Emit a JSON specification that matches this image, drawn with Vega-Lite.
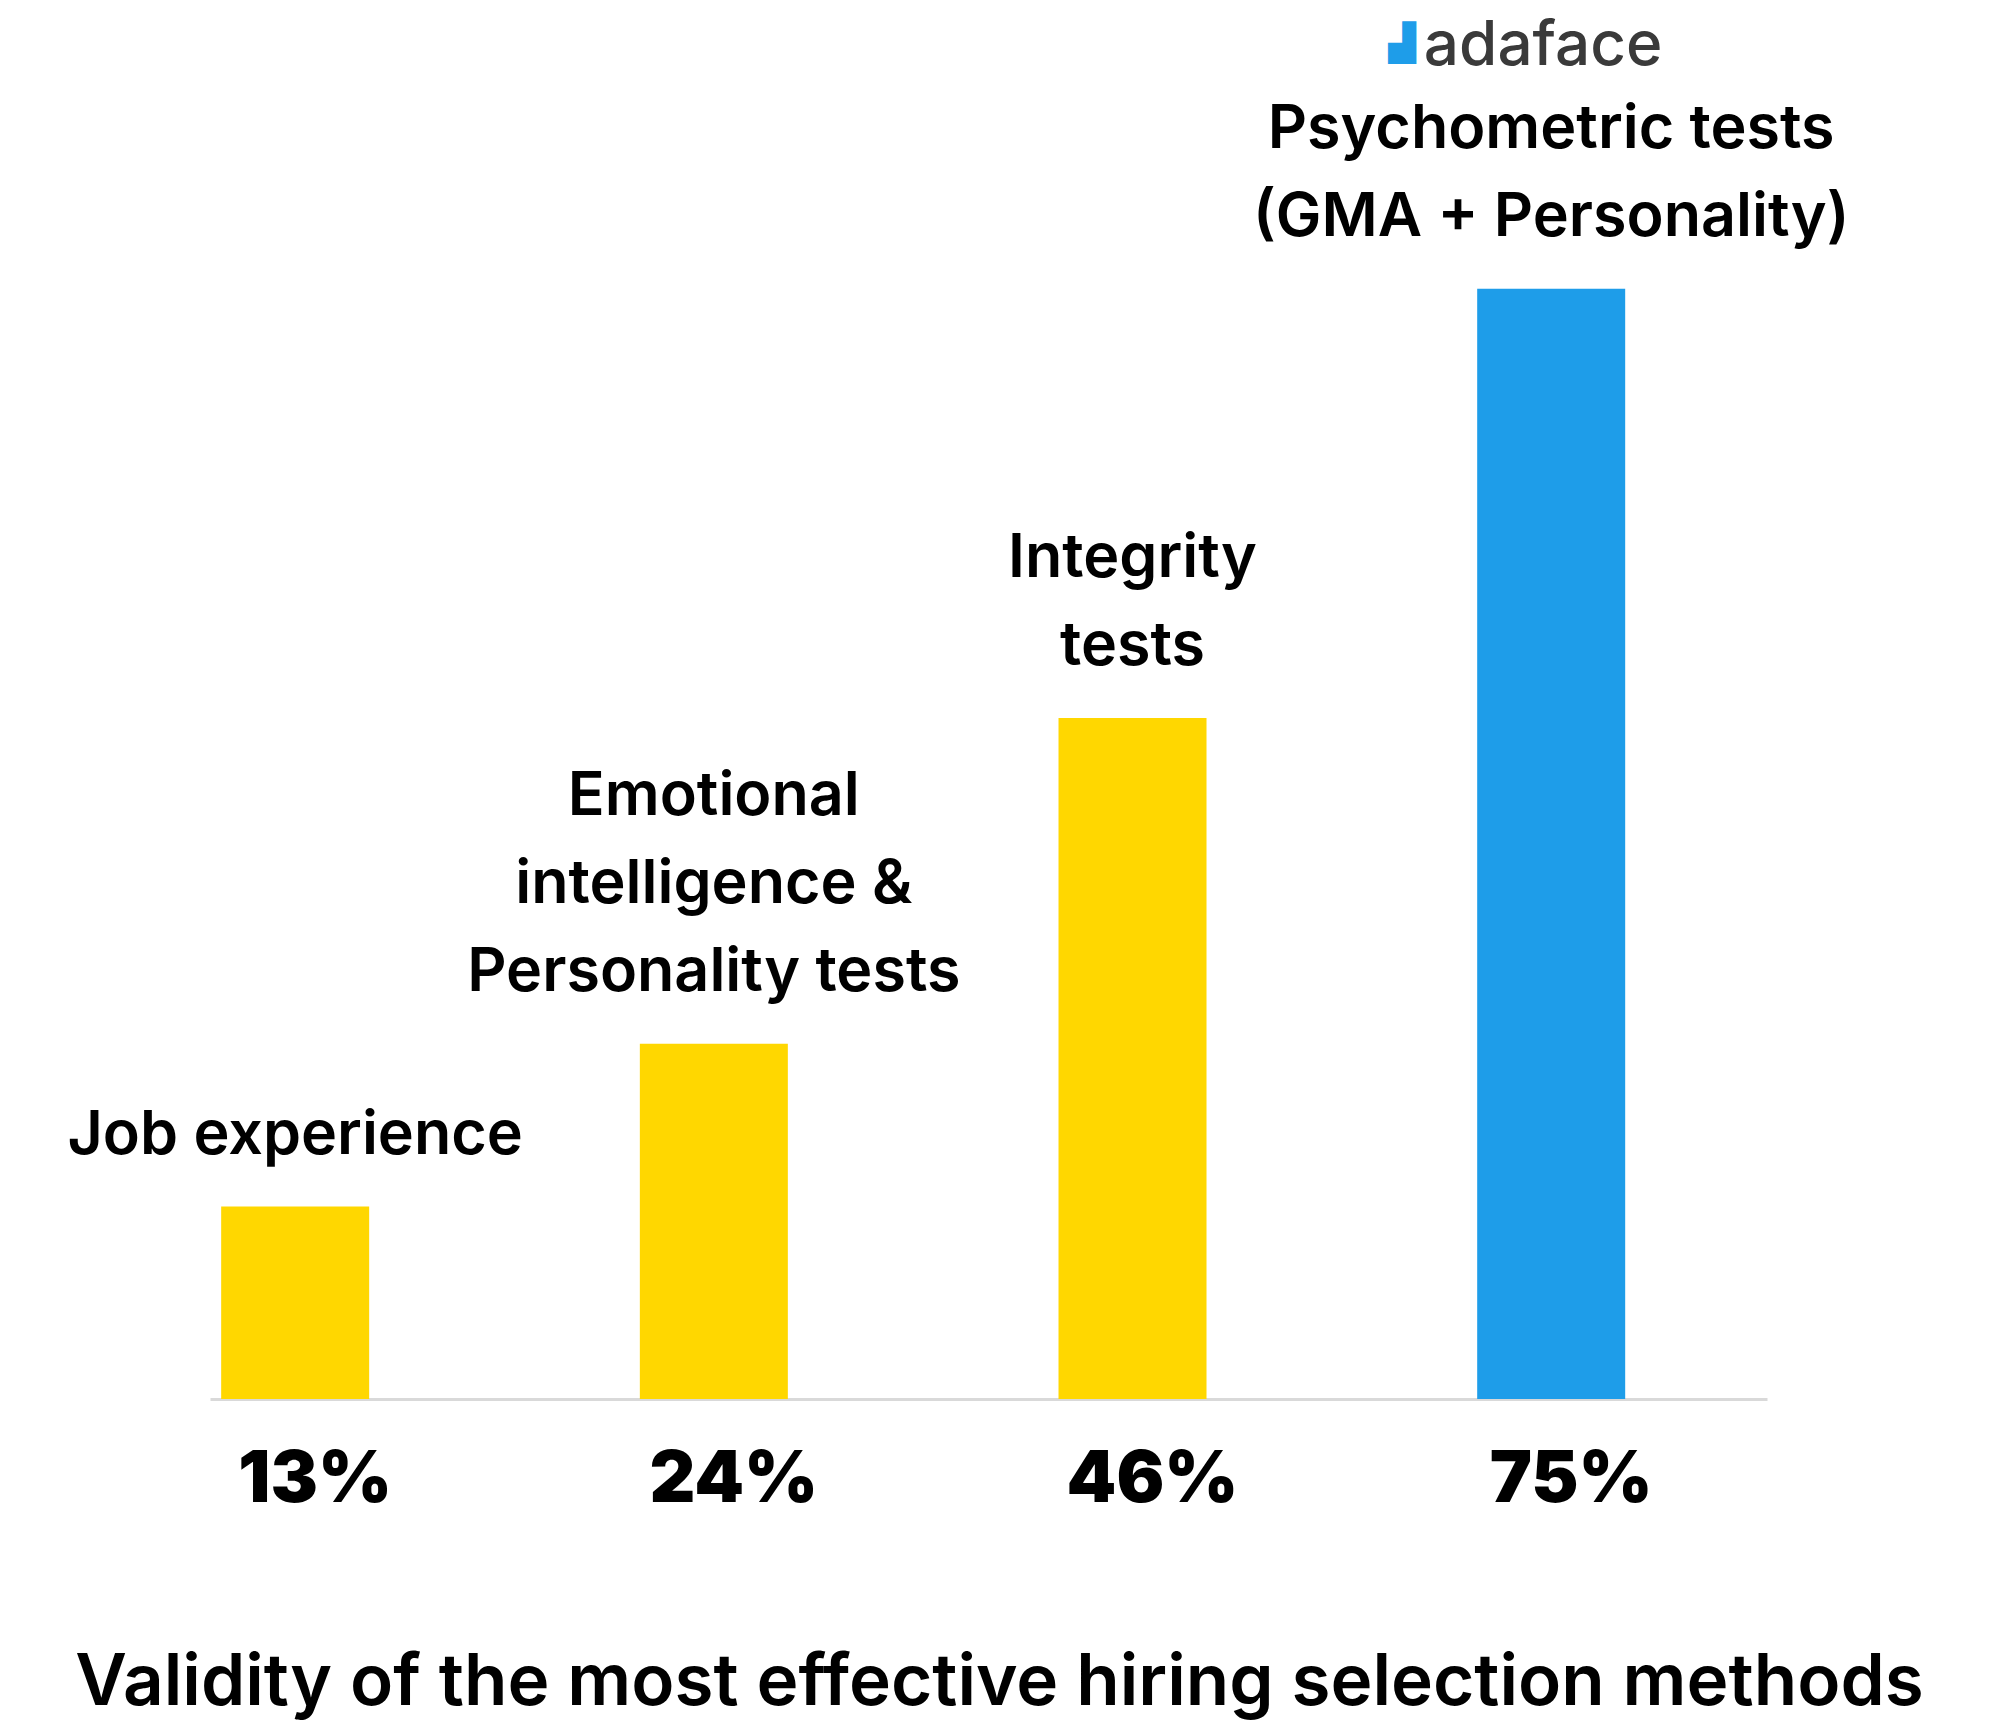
{
  "$schema": "https://vega.github.io/schema/vega-lite/v6.json",
  "width": 1557,
  "height": 1399,
  "autosize": {"type": "none"},
  "padding": {"left": 210, "right": 232, "top": 0, "bottom": 328},
  "background": "white",
  "config": {"view": {"stroke": null}, "font": "Inter"},
  "title": {
    "text": "Validity of the most effective hiring selection methods",
    "orient": "bottom",
    "offset": 133,
    "dx": 11,
    "fontSize": 71,
    "fontWeight": 600,
    "color": "#000000",
    "anchor": "middle",
    "baseline": "top",
    "font": "Inter"
  },
  "data": {
    "values": [
      {"method": "Job experience", "validity": 13, "pct": "13%", "group": "other"},
      {"method": "Emotional|intelligence &|Personality tests", "validity": 24, "pct": "24%", "group": "other"},
      {"method": "Integrity|tests", "validity": 46, "pct": "46%", "group": "other"},
      {"method": "Psychometric tests|(GMA + Personality)", "validity": 75, "pct": "75%", "group": "highlight"}
    ]
  },
  "encoding": {
    "x": {
      "field": "method",
      "type": "nominal",
      "sort": null,
      "scale": {"paddingInner": 0.6465, "paddingOuter": 0.1827, "align": 0.073},
      "axis": {"labels": false, "ticks": false, "title": null, "domainColor": "#d9d9d9", "domainWidth": 3, "grid": false}
    }
  },
  "layer": [
    {
      "mark": {"type": "bar"},
      "encoding": {
        "y": {"field": "validity", "type": "quantitative", "scale": {"domain": [0, 94.5], "nice": false}, "axis": null},
        "color": {"field": "group", "type": "nominal", "scale": {"domain": ["other", "highlight"], "range": ["#FFD700", "#1E9DE9"]}, "legend": null}
      }
    },
    {
      "transform": [{"filter": "datum.method == 'Job experience'"}],
      "mark": {"type": "text", "baseline": "bottom", "dy": -40, "fontSize": 61, "fontWeight": 600, "lineHeight": 88, "lineBreak": "|", "color": "#000000"},
      "encoding": {
        "y": {"field": "validity", "type": "quantitative"},
        "text": {"field": "method"}
      }
    },
    {
      "transform": [{"filter": "datum.method == 'Integrity|tests' || datum.method == 'Psychometric tests|(GMA + Personality)'"}],
      "mark": {"type": "text", "baseline": "bottom", "dy": -128, "fontSize": 61, "fontWeight": 600, "lineHeight": 88, "lineBreak": "|", "color": "#000000"},
      "encoding": {
        "y": {"field": "validity", "type": "quantitative"},
        "text": {"field": "method"}
      }
    },
    {
      "transform": [{"filter": "datum.method == 'Emotional|intelligence &|Personality tests'"}],
      "mark": {"type": "text", "baseline": "bottom", "dy": -216, "fontSize": 61, "fontWeight": 600, "lineHeight": 88, "lineBreak": "|", "color": "#000000"},
      "encoding": {
        "y": {"field": "validity", "type": "quantitative"},
        "text": {"field": "method"}
      }
    },
    {
      "mark": {"type": "text", "baseline": "middle", "dy": 82, "dx": 20, "fontSize": 71, "fontWeight": 900, "color": "#000000"},
      "encoding": {
        "y": {"datum": 0, "type": "quantitative"},
        "text": {"field": "pct"}
      }
    },
    {
      "data": {"values": [{"brand": "adaface", "icon": "▟"}]},
      "mark": {"type": "text", "baseline": "middle", "dx": -8, "fontSize": 62, "fontWeight": 500, "color": "#3a3a3a"},
      "encoding": {
        "x": {"datum": "Psychometric tests|(GMA + Personality)"},
        "y": {"datum": 91.4, "type": "quantitative"},
        "text": {"field": "brand"}
      }
    },
    {
      "data": {"values": [{"brand": "adaface", "icon": "▟"}]},
      "mark": {"type": "text", "baseline": "middle", "dx": -149, "fontSize": 36, "font": "DejaVu Sans", "color": "#1E9DE9"},
      "encoding": {
        "x": {"datum": "Psychometric tests|(GMA + Personality)"},
        "y": {"datum": 91.5, "type": "quantitative"},
        "text": {"field": "icon"}
      }
    }
  ]
}
